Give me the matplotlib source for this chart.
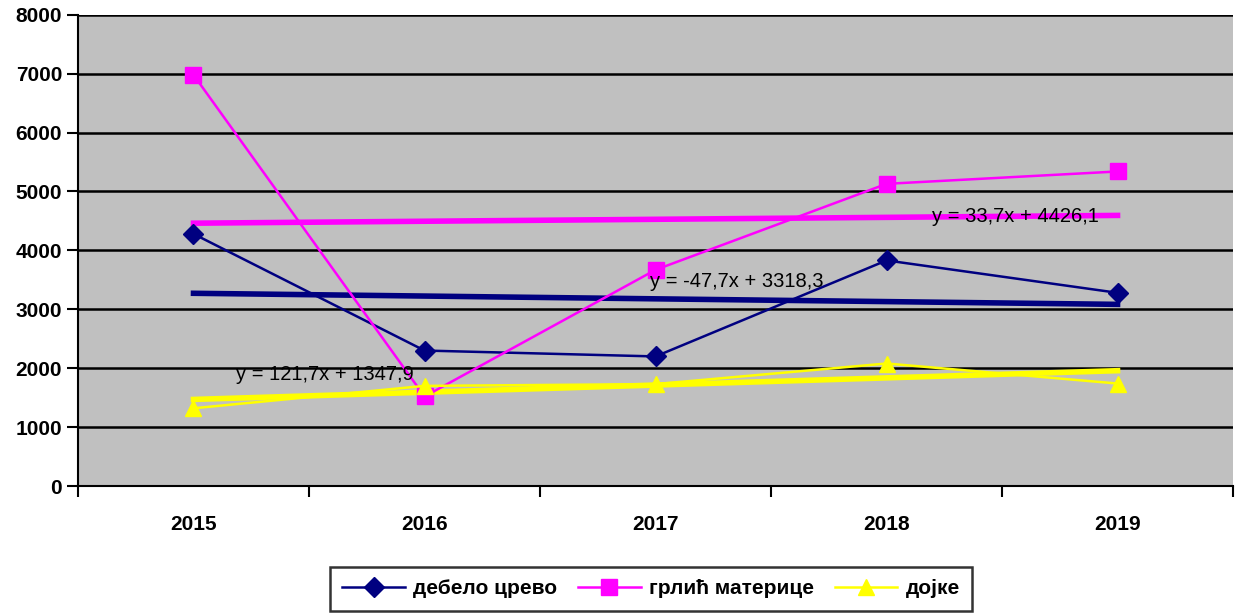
import numpy as np
import matplotlib
matplotlib.use('Agg')
import matplotlib.pyplot as plt

plt.rcParams['font.family'] = ['Liberation Sans', 'DejaVu Sans']

# Data
years = ['2015', '2016', '2017', '2018', '2019']
debelo = [4280, 2300, 2200, 3830, 3280]
grlic = [6980, 1520, 3670, 5130, 5340]
dojke = [1320, 1700, 1730, 2080, 1740]
labels = ['дебело црево', 'грлић материце', 'дојке']
equations = ['y = -47,7x + 3318,3', 'y = 33,7x + 4426,1', 'y = 121,7x + 1347,9']

x = np.arange(1, len(years) + 1)

fig = plt.figure(figsize=(12.38, 6.16), dpi=100)
ax = fig.add_axes([0.063, 0.211, 0.933, 0.765])
ax.set_facecolor('#C0C0C0')

series = [
    (debelo, '#000080', 'D', 10),
    (grlic, '#FF00FF', 's', 11),
    (dojke, '#FFFF00', '^', 12),
]
eq_pos = [(3.35, 3464), (4.556, 4584), (1.57, 1885)]

for (vals, col, mk, ms), lab, eq, (ex, ey) in zip(series, labels, equations, eq_pos):
    ax.plot(x, vals, color=col, marker=mk, markersize=ms, linewidth=1.8,
            label=lab, zorder=4)
    k, b = np.polyfit(x, vals, 1)
    ax.plot([x[0], x[-1]], [k * x[0] + b, k * x[-1] + b], color=col,
            linewidth=4, zorder=3)
    ax.text(ex, ey, eq, fontsize=14.5, ha='center', va='center', zorder=5)

ax.set_xlim(0.5, 5.5)
ax.set_ylim(0, 8000)
ax.set_yticks(np.arange(0, 8001, 1000))
ax.grid(axis='y', color='black', linewidth=1.8, zorder=1)
ax.set_axisbelow(True)

ax.set_xticks(np.arange(0.5, 5.6, 1))
ax.set_xticklabels([])
ax.set_xticks(x, minor=True)
ax.set_xticklabels(years, minor=True, fontweight='bold', fontsize=15)
ax.tick_params(axis='x', which='minor', length=0, pad=21)
ax.tick_params(axis='x', which='major', length=8, width=1.5, direction='out')
ax.tick_params(axis='y', length=8, width=1.5, direction='out', labelsize=15)
for t in ax.get_yticklabels():
    t.set_fontweight('bold')

for s in ['top', 'right']:
    ax.spines[s].set_visible(False)
for s in ['left', 'bottom']:
    ax.spines[s].set_linewidth(1.5)

leg = fig.legend(loc='lower center', bbox_to_anchor=(0.526, 0.002), ncol=3,
                 frameon=True, fancybox=False, edgecolor='black',
                 prop={'weight': 'bold', 'size': 15}, handlelength=3.0,
                 columnspacing=1.0, handletextpad=0.4, borderpad=0.6,
                 borderaxespad=0.2)
leg.get_frame().set_linewidth(1.8)

fig.savefig('out.png', dpi=100)
